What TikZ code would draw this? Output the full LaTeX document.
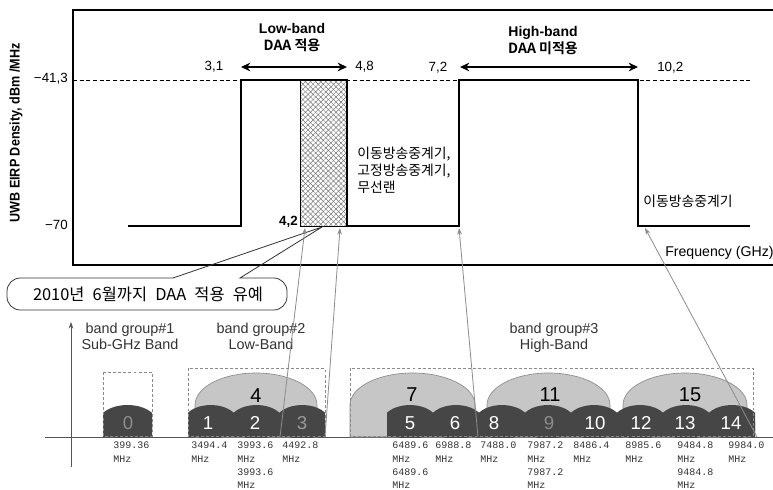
\documentclass[tikz,border=0pt]{standalone}
\usepackage{fontspec}
\usepackage{graphicx}
\setmainfont{Liberation Sans}
\newfontfamily\kr{Noto Sans CJK KR}[BoldFont={Noto Sans CJK KR Bold}]
\newfontfamily\mono{Liberation Mono}
\usetikzlibrary{arrows.meta,patterns.meta}
\definecolor{garrowc}{HTML}{8C8C8C}
\definecolor{darkband}{HTML}{464646}
\definecolor{lightdome}{HTML}{C6C6C6}
\definecolor{domeedge}{HTML}{8C8C8C}
\definecolor{boxdash}{HTML}{8A8A8A}
\definecolor{textgray}{HTML}{333333}
\definecolor{axisc}{HTML}{555555}
\begin{document}
\begin{tikzpicture}[x=0.75pt,y=-0.75pt,
  every node/.style={inner sep=0pt},
  lbl/.style={font=\fontsize{10}{12}\selectfont},
  bl/.style={font=\bfseries\fontsize{10.5}{12.75}\selectfont, align=center},
  ylab/.style={font=\bfseries\fontsize{10.5}{12}\selectfont},
  krtxt/.style={font=\kr\fontsize{10.4}{12.75}\selectfont},
  sig/.style={line width=1.4pt, line join=miter},
  frameline/.style={line width=1.2pt},
  dbl/.style={line width=1.5pt,{Stealth[length=7pt,width=6.5pt]}-{Stealth[length=7pt,width=6.5pt]}},
  garrow/.style={draw=garrowc, line width=0.6pt, -{Stealth[length=5pt,width=3.5pt]}},
  grp/.style={font=\fontsize{10.8}{12}\selectfont, text=textgray, align=center},
  darknum/.style={font=\fontsize{14}{14}\selectfont, text=white},
  lightnum/.style={font=\fontsize{15}{15}\selectfont, text=black},
  freqlbl/.style={anchor=north west, align=left, font=\mono\fontsize{7.5}{10}\selectfont, text=textgray},
  grpbox/.style={draw=boxdash, line width=0.6pt, dash pattern=on 2.2pt off 1.6pt},
  dome/.style={fill=lightdome, draw=domeedge, line width=0.5pt}
]
\fill[white] (0,0) rectangle (773,489);
\useasboundingbox (0,0) rectangle (773,489);

% ---------- upper chart ----------
\draw[frameline] (790,10) -- (73,10) -- (73,265) -- (790,265);
\draw[line width=0.5pt, dash pattern=on 3pt off 2pt] (73,80) -- (752,80);

% hatched DAA exempt region
\fill[white] (300,80) rectangle (347,226);
\fill[pattern={Lines[angle=45,distance=2.7pt,line width=0.35pt]}, pattern color=black!55] (300,80) rectangle (347,226);
\fill[pattern={Lines[angle=-45,distance=2.7pt,line width=0.35pt]}, pattern color=black!55] (300,80) rectangle (347,226);
\draw[line width=0.6pt] (300,80) rectangle (347,226);

% spectrum mask
\coordinate (s0) at (128,226);
\coordinate (s1) at (241,226);
\coordinate (s2) at (241,80);
\coordinate (s3) at (347,80);
\coordinate (s4) at (347,226);
\coordinate (s5) at (459,226);
\coordinate (s6) at (459,80);
\coordinate (s7) at (638,80);
\coordinate (s8) at (638,226);
\coordinate (s9) at (750,226);
\draw[sig] (s0) -- (s1) -- (s2) -- (s3) -- (s4) -- (s5) -- (s6) -- (s7) -- (s8) -- (s9);

\node[lbl, anchor=east] (m413) at (68,79) {−41,3};
\node[lbl, anchor=east] (m70) at (68,225) {−70};
\node[ylab, rotate=90] (ylab) at (16,133) {\scalebox{0.9}[1]{UWB EIRP Density, dBm /MHz}};

\node[bl] (low) at (292,38) {Low-band\\{\kr DAA 적용}};
\node[bl] (high) at (543,41) {High-band\\{\kr DAA 미적용}};

\node[lbl] (t31) at (214,67) {3,1};
\node[lbl, anchor=west] (t48) at (355,67) {4,8};
\node[lbl] (t72) at (438,68) {7,2};
\node[lbl, anchor=west] (t102) at (657,68) {10,2};
\node[lbl, font=\bfseries\fontsize{10}{12}\selectfont, anchor=east] (t42) at (298,222) {4,2};

\coordinate (la) at (241,67);
\coordinate (lb) at (347,67);
\coordinate (ha) at (460,67);
\coordinate (hb) at (638,67);
\draw[dbl] (la) -- (lb);
\draw[dbl] (ha) -- (hb);

\node[krtxt, align=left, anchor=west] (svc1) at (357,170) {이동방송중계기,\\고정방송중계기,\\무선랜};
\node[krtxt, anchor=west] (svc2) at (643,201) {이동방송중계기};
\node[lbl, font=\fontsize{10.6}{12}\selectfont, anchor=west] (freq) at (665,253) {Frequency (GHz)};

% ---------- callout ----------
\coordinate (capex) at (322,227);
\draw[line width=0.6pt, draw=black!80] (173,278) [rounded corners=10] -- (7,278) -- (7,310) -- (287,310) -- (287,278) [sharp corners] -- (240,278) -- (capex) -- cycle;
\node[font=\kr\fontsize{12.3}{14}\selectfont] (note) at (148,294) {2010년\hspace{0.5em}6월까지\hspace{0.5em}DAA\hspace{0.5em}적용\hspace{0.5em}유예};

% ---------- lower band plan ----------
\draw[axisc, line width=0.6pt, -{Stealth[length=5pt,width=3.5pt]}] (71,467) -- (71,322);
\draw[axisc, line width=0.6pt] (45,437) -- (780,437);

\node[grp] (g1) at (130,336) {band group\#1\\Sub-GHz Band};
\node[grp] (g2) at (261,336) {band group\#2\\Low-Band};
\node[grp] (g3) at (554,338) {band group\#3\\ High-Band};

% light domes
\foreach \a/\b in {195/317, 350/475, 487/610, 623/747}{
  \pgfmathsetmacro{\r}{(\b-\a)/2}
  \path[dome] (\a,437) -- (\a,405) arc[start angle=180, end angle=360, x radius=\r, y radius=32] -- (\b,437) -- cycle;
}

% dark sub-bands
\begin{scope}
  \clip (103,380) rectangle (152,437);
  \fill[darkband] (127.5,422) ellipse [x radius=29, y radius=17];
  \fill[darkband] (102,422) rectangle (153,437);
\end{scope}
\begin{scope}
  \clip (188,380) rectangle (325,437);
  \foreach \c in {210.8,256.5,302.2}{
    \fill[darkband] (\c,422) ellipse [x radius=27.3, y radius=17];
  }
  \fill[darkband] (187,422) rectangle (326,437);
\end{scope}
\begin{scope}
  \clip (387,380) rectangle (755,437);
  \foreach \c in {410,456,502,548,594,640,686,732}{
    \fill[darkband] (\c,422) ellipse [x radius=27.5, y radius=17];
  }
  \fill[darkband] (386,422) rectangle (756,437);
\end{scope}

\node[darknum, text=black!45] (n0) at (128,423) {0};
\node[darknum] (n1) at (208,423) {1};
\node[darknum] (n2) at (255,423) {2};
\node[darknum, text=black!40] (n3) at (302,423) {3};
\node[darknum] (n5) at (410,423) {5};
\node[darknum] (n6) at (455,423) {6};
\node[darknum] (n8) at (494,423) {8};
\node[darknum, text=black!45] (n9) at (549,423) {9};
\node[darknum] (n10) at (595,423) {10};
\node[darknum] (n12) at (641,423) {12};
\node[darknum] (n13) at (685,423) {13};
\node[darknum] (n14) at (731,423) {14};

\node[lightnum] (n4) at (256,396) {4};
\node[lightnum] (n7) at (412,395) {7};
\node[lightnum] (n11) at (550,395) {11};
\node[lightnum] (n15) at (690,395) {15};

% group boxes
\draw[grpbox] (103,372) rectangle (152,436);
\draw[grpbox] (188,368) rectangle (325,436);
\draw[grpbox] (350,368) rectangle (753,436);

% frequency labels
\node[freqlbl] (f0) at (113,442) {399.36\\MHz};
\node[freqlbl] (f1) at (191,442) {3494.4\\MHz};
\node[freqlbl] (f2) at (237,442) {3993.6\\MHz\\3993.6\\MHz};
\node[freqlbl] (f3) at (282,442) {4492.8\\MHz};
\node[freqlbl] (f5) at (392,442) {6489.6\\MHz\\6489.6\\MHz};
\node[freqlbl] (f6) at (435,442) {6988.8\\MHz};
\node[freqlbl] (f8) at (480,442) {7488.0\\MHz};
\node[freqlbl] (f9) at (527,442) {7987.2\\MHz\\7987.2\\MHz};
\node[freqlbl] (f10) at (573,442) {8486.4\\MHz};
\node[freqlbl] (f12) at (625,442) {8985.6\\MHz};
\node[freqlbl] (f13) at (677,442) {9484.8\\MHz\\9484.8\\MHz};
\node[freqlbl] (f14) at (728,442) {9984.0\\MHz};

% gray pointer arrows
\coordinate (b1) at (280,437);
\coordinate (b2) at (325,437);
\coordinate (b3) at (478,437);
\coordinate (b4) at (757,437);
\coordinate (h1) at (305,228);
\coordinate (h2) at (340,228);
\coordinate (h3) at (459,228);
\coordinate (h4) at (645,228);
\draw[garrow] (b1) -- (h1);
\draw[garrow] (b2) -- (h2);
\draw[garrow] (b3) -- (h3);
\draw[garrow] (b4) -- (h4);
\end{tikzpicture}
\end{document}
